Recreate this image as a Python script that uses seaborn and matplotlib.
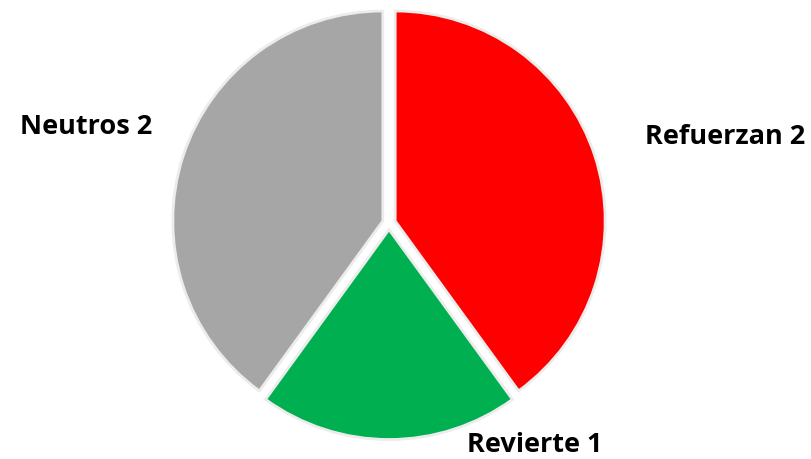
import matplotlib
matplotlib.use('Agg')
import matplotlib.pyplot as plt
import seaborn as sns

# Data
labels = ['Refuerzan', 'Revierte', 'Neutros']
values = [2, 1, 2]
colors = ['#FF0000', '#00B050', '#A6A6A6']

# label anchors (pixel coords, bottom-up, text centre)
label_x = [725, 535, 86]
label_y = [323, 15, 333]

sns.set_theme(style='white')
plt.rcParams['font.family'] = ['Open Sans', 'DejaVu Sans']

fig = plt.figure(figsize=(8.12, 4.60), dpi=100)
ax = fig.add_axes([0, 0, 1, 1])

# explode is in data units here (pixels)
ax.pie(values, colors=sns.color_palette(colors), startangle=90, counterclock=False,
       explode=[6.5] * len(values), center=(389, 236), radius=210,
       wedgeprops=dict(edgecolor='#ececec', linewidth=2))

for lab, v, x, y in zip(labels, values, label_x, label_y):
    ax.text(x, y, f'{lab} {v}', fontsize=19.5, fontweight='bold',
            ha='center', va='center', color='black')

ax.set_xlim(0, 812)
ax.set_ylim(0, 460)
ax.set_aspect('equal')
ax.axis('off')

fig.savefig('out.png', dpi=100)
